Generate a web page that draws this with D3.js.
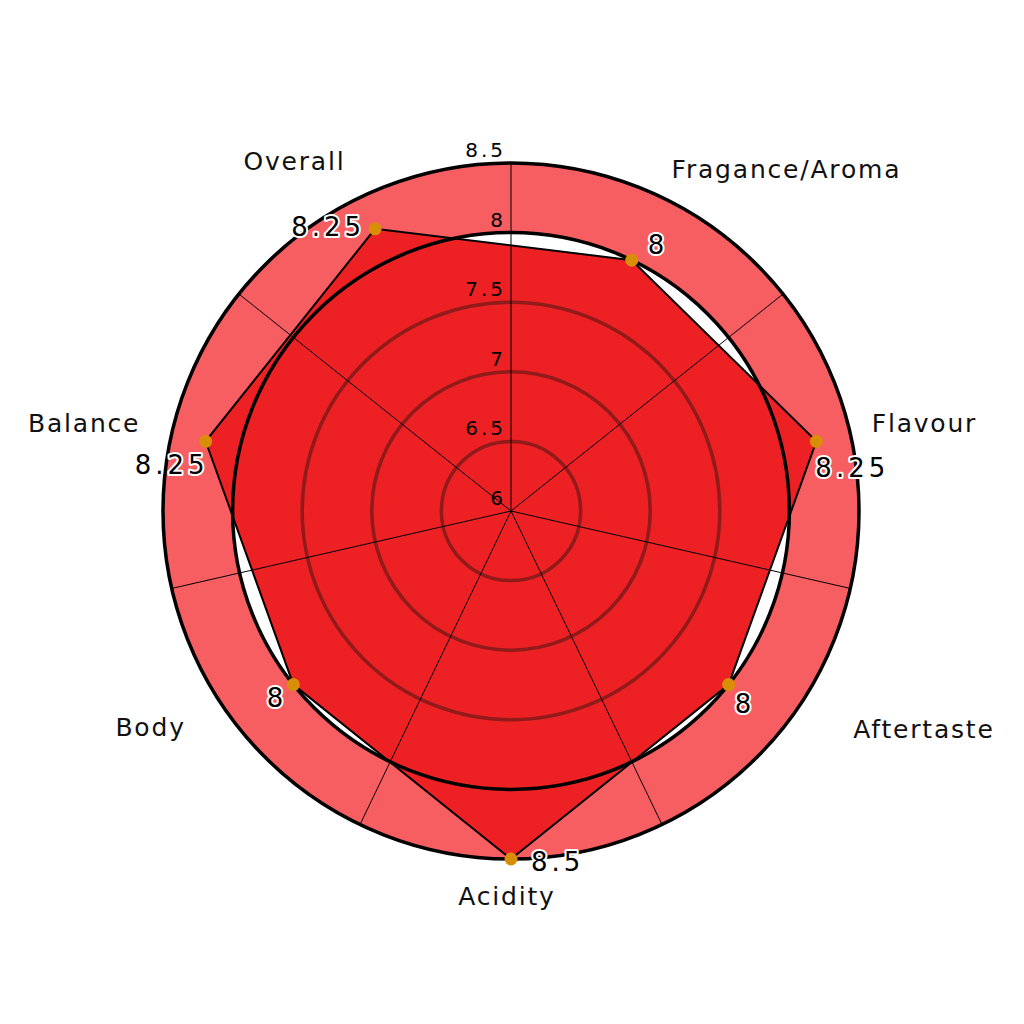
<!DOCTYPE html>
<html>
<head>
<meta charset="utf-8">
<script src="https://cdn.jsdelivr.net/npm/d3@7"></script>
<style>
  html, body { margin: 0; padding: 0; background: #ffffff; }
  svg { display: block; }
</style>
</head>
<body>
<svg id="chart" width="1024" height="1024"></svg>
<script>
// ---- data ----
const categories = ["Fragance/Aroma", "Flavour", "Aftertaste", "Acidity", "Body", "Balance", "Overall"];
const values = [8, 8.25, 8, 8.5, 8, 8.25, 8.25];
const radialTicks = [6, 6.5, 7, 7.5, 8, 8.5];
const radialTickLabels = ["6", "6.5", "7", "7.5", "8", "8.5"];

// ---- layout (not data) ----
const W = 1024, H = 1024;
const cx = 511, cy = 511;
const R = 348;
const labelRadius = 370;
// per-category label nudges [dx, dy]
const catNudge = [[0, 0], [0, 3], [53, -4], [-4, 24], [-36, -6], [-10, 3], [-5, -8]];
// per-point value label offsets [dx, dy, anchor]
const valOffset = [[16, -6, "start"], [-1, 36, "start"], [6, 28, "start"], [20, 12, "start"],
                   [-6, 22, "end"], [3, 33, "end"], [-10, 7, "end"]];

const svg = d3.select("#chart");
const g = svg.append("g").attr("transform", `translate(${cx},${cy})`);

const r = d3.scaleLinear().domain([6, 8.5]).range([0, R]);
const n = categories.length;
const step = 2 * Math.PI / n;
const angleOf = i => (i + 0.5) * step;          // categories in sector centres
const boundaryAngles = d3.range(n).map(i => i * step); // grid spokes at sector boundaries
const px = (ang, rad) => rad * Math.sin(ang);
const py = (ang, rad) => -rad * Math.cos(ang);

// outer band (8 -> 8.5)
g.append("path")
  .attr("d", d3.arc()({innerRadius: r(8), outerRadius: r(8.5), startAngle: 0, endAngle: 2 * Math.PI}))
  .attr("fill", "#f65e61");

// polygon
const pts = values.map((v, i) => [px(angleOf(i), r(v)), py(angleOf(i), r(v))]);
const line = d3.line().curve(d3.curveLinearClosed);
g.append("path")
  .attr("d", line(pts))
  .attr("fill", "#ed2124");

// inner rings
[6.5, 7, 7.5].forEach(t => {
  g.append("circle").attr("r", r(t)).attr("fill", "none")
    .attr("stroke", "#861a1a").attr("stroke-width", 3.5).attr("stroke-opacity", 0.9);
});
// black rings
[8, 8.5].forEach(t => {
  g.append("circle").attr("r", r(t)).attr("fill", "none")
    .attr("stroke", "#000").attr("stroke-width", 3.5);
});

// polygon outline
g.append("path")
  .attr("d", line(pts))
  .attr("fill", "none")
  .attr("stroke", "#000")
  .attr("stroke-width", 2)
  .attr("stroke-linejoin", "miter");

// spokes
boundaryAngles.forEach(a => {
  g.append("line")
    .attr("x1", 0).attr("y1", 0)
    .attr("x2", px(a, r(8.5))).attr("y2", py(a, r(8.5)))
    .attr("stroke", "#000").attr("stroke-width", 1);
});

// radial tick labels
g.selectAll(".rtick").data(radialTicks).enter().append("text")
  .attr("class", "rtick")
  .attr("x", -5)
  .attr("y", d => -r(d) - 6)
  .attr("text-anchor", "end")
  .attr("font-family", "DejaVu Sans")
  .attr("font-size", 20)
  .attr("letter-spacing", 3)
  .attr("fill", "#000")
  .text((d, i) => radialTickLabels[i]);

// points
g.selectAll(".pt").data(pts).enter().append("circle")
  .attr("class", "pt")
  .attr("cx", d => d[0]).attr("cy", d => d[1])
  .attr("r", 6.5)
  .attr("fill", "#d98e08");

// value labels
g.selectAll(".vlab").data(values).enter().append("text")
  .attr("class", "vlab")
  .attr("x", (d, i) => pts[i][0] + valOffset[i][0])
  .attr("y", (d, i) => pts[i][1] + valOffset[i][1])
  .attr("text-anchor", (d, i) => valOffset[i][2])
  .attr("font-family", "DejaVu Sans")
  .attr("font-size", 26)
  .attr("letter-spacing", 4)
  .attr("fill", "#000")
  .attr("stroke", "#fff")
  .attr("stroke-width", 4)
  .attr("stroke-linejoin", "round")
  .attr("paint-order", "stroke")
  .text(d => String(d));

// category labels
g.selectAll(".clab").data(categories).enter().append("text")
  .attr("class", "clab")
  .attr("x", (d, i) => px(angleOf(i), labelRadius) + catNudge[i][0])
  .attr("y", (d, i) => py(angleOf(i), labelRadius) + catNudge[i][1])
  .attr("text-anchor", (d, i) => {
    const s = Math.sin(angleOf(i));
    return Math.abs(s) < 0.1 ? "middle" : (s > 0 ? "start" : "end");
  })
  .attr("font-family", "DejaVu Sans")
  .attr("font-size", 25)
  .attr("letter-spacing", 1.8)
  .attr("fill", "#111")
  .text(d => d);
</script>
</body>
</html>
